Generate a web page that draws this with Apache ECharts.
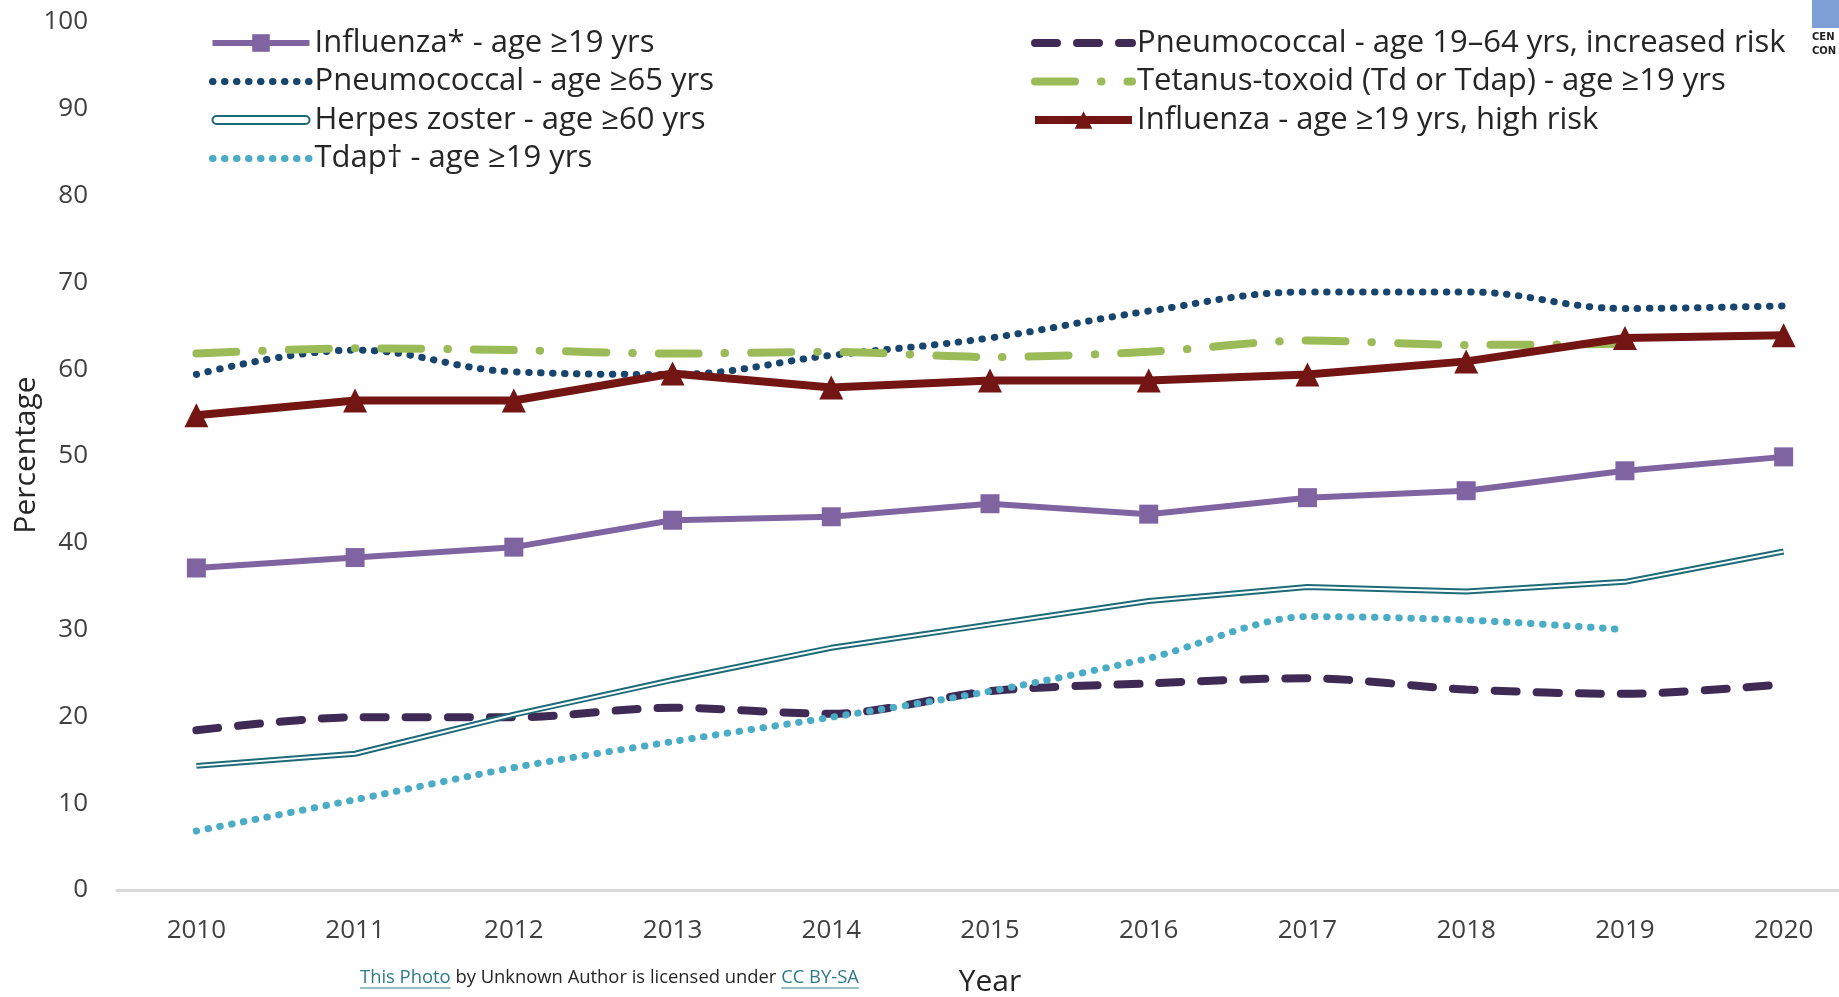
<!DOCTYPE html>
<html>
<head>
<meta charset="utf-8">
<script src="https://cdn.jsdelivr.net/npm/echarts@6/dist/echarts.min.js"></script>
<style>
html, body { margin: 0; padding: 0; background: #fff; }
#chart { width: 1839px; height: 997px; }
</style>
</head>
<body>
<div id="chart"></div>
<script>
var years = ['2010', '2011', '2012', '2013', '2014', '2015', '2016', '2017', '2018', '2019', '2020'];
var yTicks = [0, 10, 20, 30, 40, 50, 60, 70, 80, 90, 100];

var flu19 = [37.1, 38.3, 39.5, 42.6, 43.0, 44.5, 43.3, 45.2, 46.0, 48.3, 49.9];
var pneumoRisk = [18.4, 19.9, 19.9, 21.0, 20.3, 22.9, 23.8, 24.4, 23.1, 22.6, 23.7];
var pneumo65 = [59.4, 62.2, 59.7, 59.4, 61.6, 63.6, 66.7, 68.9, 68.9, 67.0, 67.3];
var tetanus = [61.8, 62.4, 62.2, 61.8, 62.0, 61.4, 62.0, 63.3, 62.8, 62.9, null];
var herpes = [14.3, 15.7, 20.2, 24.2, 27.9, 30.6, 33.3, 34.9, 34.4, 35.5, 39.0];
var fluHigh = [54.7, 56.4, 56.4, 59.5, 57.9, 58.7, 58.7, 59.4, 60.9, 63.6, 63.9];
var tdap = [6.8, 10.4, 14.1, 17.1, 19.9, 22.9, 26.7, 31.5, 31.1, 30.0, null];

var names = {
    flu19: 'Influenza* - age ≥19 yrs',
    pneumoRisk: 'Pneumococcal - age 19–64 yrs, increased risk',
    pneumo65: 'Pneumococcal - age ≥65 yrs',
    tetanus: 'Tetanus-toxoid (Td or Tdap) - age ≥19 yrs',
    herpes: 'Herpes zoster - age ≥60 yrs',
    fluHigh: 'Influenza - age ≥19 yrs, high risk',
    tdap: 'Tdap† - age ≥19 yrs'
};

var sans = '"Open Sans", "Noto Sans", sans-serif';
var teal = '#1e6b78';

var chart = echarts.init(document.getElementById('chart'));

// width of a piece of text, for the footer layout
var measureCtx = document.createElement('canvas').getContext('2d');
function textWidth(str, font) {
    measureCtx.font = font;
    return measureCtx.measureText(str).width;
}
var footFont = '18.4px ' + sans;
var footY = 978;
var footX = 360;
var w1 = textWidth('This Photo', footFont);
var w2 = textWidth(' by Unknown Author is licensed under ', footFont);
var w3 = textWidth('CC BY-SA', footFont);

var legendText = { fontFamily: sans, fontSize: 31, color: '#262626', lineHeight: 30 };
var noDot = { opacity: 0 };

var option = {
    animation: false,
    backgroundColor: '#fff',
    grid: { left: 117, top: 22, right: -24, bottom: 107, containLabel: false, outerBoundsMode: 'none' },
    legend: [
        {
            left: 209, top: 27.5, orient: 'vertical', padding: 0,
            itemWidth: 97, itemHeight: 22, itemGap: 7.5,
            textStyle: legendText,
            data: [
                { name: names.flu19, lineStyle: { width: 6 } },
                { name: names.pneumo65, lineStyle: { width: 7 }, itemStyle: noDot },
                {
                    name: names.herpes,
                    icon: 'path://M4,0 H93 A4,4 0 0 1 93,8 H4 A4,4 0 0 1 4,0 Z',
                    itemStyle: { color: '#fff', borderColor: teal, borderWidth: 2 }
                },
                { name: names.tdap, lineStyle: { width: 7 }, itemStyle: noDot }
            ]
        },
        {
            left: 1031, top: 27.5, orient: 'vertical', padding: 0,
            itemWidth: 97, itemHeight: 22, itemGap: 7.5,
            textStyle: legendText,
            data: [
                { name: names.pneumoRisk, lineStyle: { width: 8 }, itemStyle: noDot },
                { name: names.tetanus, lineStyle: { width: 8 }, itemStyle: noDot },
                { name: names.fluHigh, lineStyle: { width: 8 } }
            ]
        }
    ],
    xAxis: {
        type: 'category',
        data: years,
        boundaryGap: true,
        axisLine: { lineStyle: { color: '#d9d9d9', width: 3 } },
        axisTick: { show: false },
        axisLabel: { margin: 28, fontFamily: sans, fontSize: 26, color: '#404040' },
        splitLine: { show: false }
    },
    yAxis: {
        type: 'value',
        min: yTicks[0],
        max: yTicks[yTicks.length - 1],
        interval: 10,
        axisLine: { show: false },
        axisTick: { show: false },
        splitLine: { show: false },
        axisLabel: { margin: 29, fontFamily: sans, fontSize: 26, color: '#404040' }
    },
    series: [
        {
            name: names.flu19, type: 'line', data: flu19,
            color: '#8064a2', symbol: 'rect', symbolSize: 19,
            lineStyle: { width: 6, color: '#8064a2' },
            itemStyle: { color: '#8064a2' }
        },
        {
            name: names.pneumoRisk, type: 'line', data: pneumoRisk,
            color: '#3f2a56', symbol: 'none', smooth: 0.3,
            lineStyle: { width: 8, color: '#3f2a56', type: [22, 20], cap: 'round' }
        },
        {
            name: names.pneumo65, type: 'line', data: pneumo65,
            color: '#17456e', symbol: 'none', smooth: 0.4,
            lineStyle: { width: 7, color: '#17456e', type: [0.5, 11.5], cap: 'round' }
        },
        {
            name: names.tetanus, type: 'line', data: tetanus,
            color: '#9bbb59', symbol: 'none', smooth: 0.3,
            lineStyle: { width: 8, color: '#9bbb59', type: [40, 26, 0.5, 26], cap: 'round' }
        },
        {
            name: names.herpes, type: 'line', data: herpes,
            color: teal, symbol: 'none',
            lineStyle: { width: 6, color: teal }
        },
        {
            name: 'herpesInner', type: 'line', data: herpes,
            symbol: 'none', silent: true,
            lineStyle: { width: 2, color: '#ffffff' }
        },
        {
            name: names.fluHigh, type: 'line', data: fluHigh,
            color: '#731512', symbol: 'triangle', symbolSize: 24,
            lineStyle: { width: 8, color: '#731512' },
            itemStyle: { color: '#731512' }
        },
        {
            name: names.tdap, type: 'line', data: tdap,
            color: '#4bacc6', symbol: 'none', smooth: 0.3,
            lineStyle: { width: 7, color: '#4bacc6', type: [0.5, 11.5], cap: 'round' }
        }
    ],
    graphic: [
        {
            type: 'text', x: 26, y: 455, rotation: Math.PI / 2,
            style: { text: 'Percentage', font: '30px ' + sans, fill: '#262626', align: 'center', verticalAlign: 'middle' }
        },
        {
            type: 'text', x: 990, y: 982,
            style: { text: 'Year', font: '30px ' + sans, fill: '#262626', align: 'center', verticalAlign: 'middle' }
        },
        {
            type: 'text', x: footX, y: footY,
            style: { text: 'This Photo', font: footFont, fill: '#2e7a8c', verticalAlign: 'middle' }
        },
        {
            type: 'line', shape: { x1: footX, y1: footY + 10, x2: footX + w1, y2: footY + 10 },
            style: { stroke: '#2e7a8c', lineWidth: 1 }
        },
        {
            type: 'text', x: footX + w1, y: footY,
            style: { text: ' by Unknown Author is licensed under ', font: footFont, fill: '#262626', verticalAlign: 'middle' }
        },
        {
            type: 'text', x: footX + w1 + w2, y: footY,
            style: { text: 'CC BY-SA', font: footFont, fill: '#2e7a8c', verticalAlign: 'middle' }
        },
        {
            type: 'line', shape: { x1: footX + w1 + w2, y1: footY + 10, x2: footX + w1 + w2 + w3, y2: footY + 10 },
            style: { stroke: '#2e7a8c', lineWidth: 1 }
        },
        // corner of the CDC logo, cut off by the picture edge
        {
            type: 'rect', shape: { x: 1812, y: 0, width: 27, height: 28 },
            style: { fill: '#7e9ed6' }
        },
        {
            type: 'text', x: 1812, y: 37,
            style: { text: 'CEN', font: 'bold 10px "DejaVu Sans"', fill: '#222', verticalAlign: 'middle' }
        },
        {
            type: 'text', x: 1812, y: 51,
            style: { text: 'CON', font: 'bold 10px "DejaVu Sans"', fill: '#222', verticalAlign: 'middle' }
        }
    ]
};

chart.setOption(option);
</script>
</body>
</html>
